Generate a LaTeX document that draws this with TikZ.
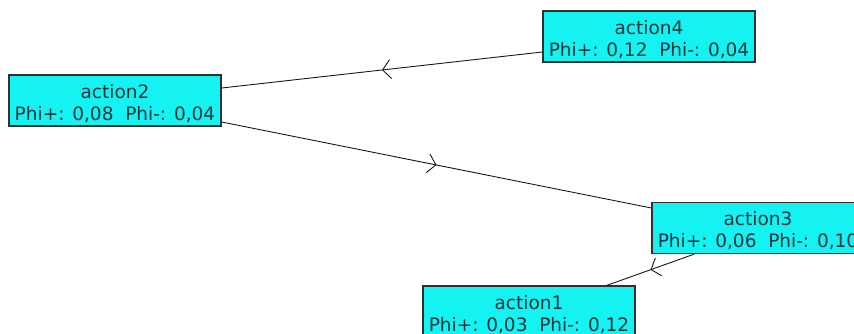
\documentclass[tikz,border=0pt]{standalone}
\usepackage{fontspec}
\setmainfont{DejaVu Sans}
\usetikzlibrary{arrows.meta,decorations.markings}
\definecolor{boxfill}{RGB}{20,242,242}
\definecolor{boxtext}{RGB}{25,55,60}
\definecolor{edgecol}{RGB}{25,25,25}
\tikzset{
  action/.style={draw=edgecol!90, line width=1.4pt, fill=boxfill,
    minimum width=212pt, minimum height=51pt, inner sep=0pt,
    label={[actiontext]center:#1}},
  actiontext/.style={text=boxtext, align=center, inner sep=0pt, yshift=-3pt,
    font=\fontsize{18.5}{22}\selectfont},
  link/.style={draw=edgecol, line width=0.9pt,
    postaction={decorate},
    decoration={markings, mark=at position 0.5 with {\arrow{Straight Barb[length=8pt,width=19pt,line width=0.9pt]}}}}
}
\begin{document}
\begin{tikzpicture}[x=1pt,y=-1pt]
\useasboundingbox (0,0) rectangle (854,334);
\clip (0,0) rectangle (854,334);
\fill[white] (0,0) rectangle (854,334);
\node[action={action2\\Phi+: 0,08\ \ Phi-: 0,04}] (a2) at (115,100.5) {};
\node[action={action4\\Phi+: 0,12\ \ Phi-: 0,04}] (a4) at (649,36.5) {};
\node[action={action3\\Phi+: 0,06\ \ Phi-: 0,10}] (a3) at (758,228) {};
\node[action={action1\\Phi+: 0,03\ \ Phi-: 0,12}] (a1) at (529,311.5) {};
\draw[link] ([yshift=-15.5pt]a4.west) -- ([yshift=12.5pt]a2.east);
\draw[link] ([yshift=-21.5pt]a2.east) -- ([yshift=20pt]a3.west);
\draw[link] ([xshift=-64pt]a3.south) -- ([xshift=78pt]a1.north);
\end{tikzpicture}
\end{document}
